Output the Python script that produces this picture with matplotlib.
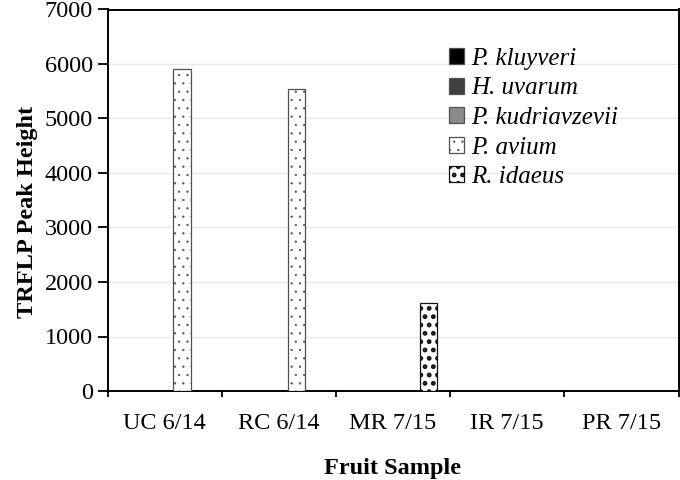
import numpy as np
import matplotlib
matplotlib.use("Agg")
from matplotlib import pyplot as plt
from matplotlib.patches import Patch

plt.rcParams['font.family'] = ['Liberation Serif', 'DejaVu Serif']

categories = ['UC 6/14', 'RC 6/14', 'MR 7/15', 'IR 7/15', 'PR 7/15']
species = ['P. kluyveri', 'H. uvarum', 'P. kudriavzevii', 'P. avium', 'R. idaeus']
kluyveri = [0, 0, 0, 0, 0]
uvarum = [0, 0, 0, 0, 0]
kudriavzevii = [0, 0, 0, 0, 0]
avium = [5900, 5550, 0, 0, 0]
idaeus = [0, 0, 1620, 0, 0]
series = [kluyveri, uvarum, kudriavzevii, avium, idaeus]

# fill, edge, hatch, hatch linewidth
styles = [('#000000', '#505050', None, 1.0),
          ('#404040', '#505050', None, 1.0),
          ('#8a8a8a', '#505050', None, 1.0),
          ('white', '#505050', '..', 0.4),
          ('white', '#111111', '..', 2.2)]

fig = plt.figure(figsize=(6.8, 4.8), dpi=100)
ax = fig.add_axes([107.5/680, 1 - 391/480, 571/680, 381.5/480])

x = np.arange(len(categories))
w = 0.155
handles = []
for i, (vals, (fc, ec, hatch, hlw)) in enumerate(zip(series, styles)):
    bars = ax.bar(x + (i - 2) * w, vals, w, color=fc, edgecolor=ec,
                  linewidth=0.9, hatch=hatch, zorder=3)
    for b in bars:
        if b.get_height() == 0:
            b.set_visible(False)
        b.set_hatch_linewidth(hlw)
    handles.append(Patch(facecolor=fc, edgecolor=ec, linewidth=0.9, hatch=hatch))

ax.set_xlim(-0.5, 4.5)
ax.set_ylim(0, 7000)
ax.set_yticks(np.arange(0, 7001, 1000))
ax.yaxis.grid(True, color='#e8e8e8', linewidth=1.0, zorder=0)
ax.set_axisbelow(True)

ax.set_xticks(np.arange(-0.5, 5, 1))
ax.set_xticklabels([])
ax.set_xticks(x, minor=True)
ax.set_xticklabels(categories, minor=True, fontsize=17.5)
ax.tick_params(axis='x', which='minor', length=0, pad=16)
ax.tick_params(axis='x', which='major', direction='out', length=4.5, width=1.3)
ax.tick_params(axis='y', direction='out', length=7, width=1.3, labelsize=17.5, pad=3.5)

for s in ax.spines.values():
    s.set_linewidth(1.4)

ax.set_ylabel('TRFLP Peak Height', fontsize=17.5, fontweight='bold', labelpad=5, y=0.47)
ax.set_xlabel('Fruit Sample', fontsize=17.5, fontweight='bold', labelpad=17)

leg = fig.legend(handles, species, loc='upper left',
                 bbox_to_anchor=(449/680, 1 - 48/480), frameon=False,
                 borderpad=0, borderaxespad=0, handlelength=0.6,
                 handleheight=0.6, handletextpad=0.3, labelspacing=0.3,
                 prop={'size': 18, 'style': 'italic'})
for lh, st in zip(leg.legend_handles, styles):
    lh.set_hatch_linewidth(st[3])

fig.savefig('out.png', dpi=100)
